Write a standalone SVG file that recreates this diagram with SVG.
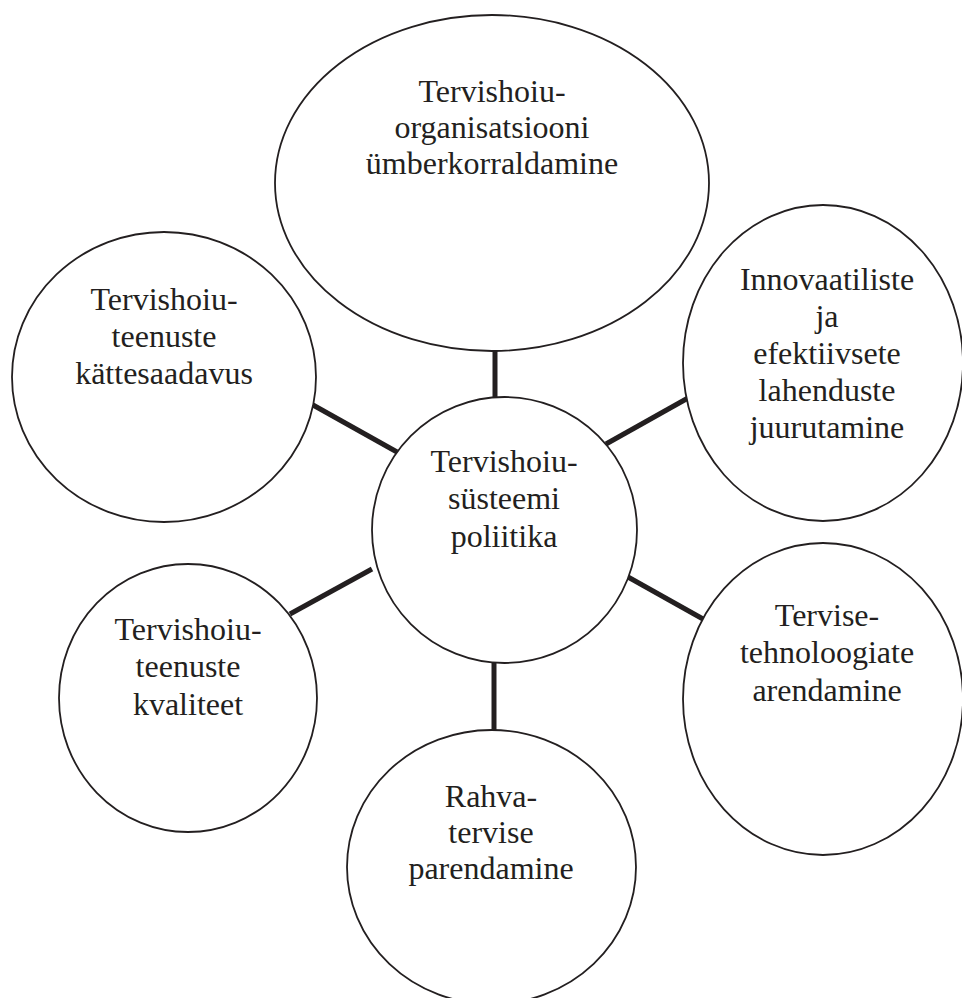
<svg xmlns="http://www.w3.org/2000/svg" width="962" height="998" viewBox="0 0 962 998">
<style>
.n{fill:#fff;stroke:#231f20;stroke-width:1.8}
.t{font-family:"Liberation Serif","Times New Roman",serif;font-size:32px;fill:#231f20;text-anchor:middle}
.c{stroke:#231f20;stroke-width:5;fill:none}
</style>
<rect width="962" height="998" fill="#fff"/>
<g id="connectors">
<line class="c" x1="495" y1="350" x2="495" y2="398"/>
<line class="c" x1="494" y1="662" x2="494" y2="731"/>
<line class="c" x1="313" y1="405" x2="397" y2="452"/>
<line class="c" x1="606" y1="444" x2="688" y2="398"/>
<line class="c" x1="290" y1="614" x2="372" y2="569"/>
<line class="c" x1="628" y1="577" x2="703" y2="619"/>
</g>
<g id="top">
<ellipse class="n" cx="492" cy="183" rx="217" ry="168"/>
<text class="t" x="492" y="102">Tervishoiu-</text>
<text class="t" x="492" y="138">organisatsiooni</text>
<text class="t" x="492" y="174">ümberkorraldamine</text>
</g>
<g id="access">
<ellipse class="n" cx="164" cy="377" rx="152" ry="145"/>
<text class="t" x="164" y="310">Tervishoiu-</text>
<text class="t" x="164" y="347">teenuste</text>
<text class="t" x="164" y="384">kättesaadavus</text>
</g>
<g id="innovation">
<ellipse class="n" cx="823" cy="363" rx="140" ry="158"/>
<text class="t" x="827" y="290">Innovaatiliste</text>
<text class="t" x="827" y="327">ja</text>
<text class="t" x="827" y="364">efektiivsete</text>
<text class="t" x="827" y="401">lahenduste</text>
<text class="t" x="827" y="438">juurutamine</text>
</g>
<g id="center">
<ellipse class="n" cx="504.5" cy="530" rx="132.5" ry="133"/>
<text class="t" x="504" y="472">Tervishoiu-</text>
<text class="t" x="504" y="509">süsteemi</text>
<text class="t" x="504" y="547">poliitika</text>
</g>
<g id="quality">
<ellipse class="n" cx="188" cy="698" rx="129" ry="134"/>
<text class="t" x="188" y="640">Tervishoiu-</text>
<text class="t" x="188" y="677">teenuste</text>
<text class="t" x="188" y="715">kvaliteet</text>
</g>
<g id="technology">
<ellipse class="n" cx="823" cy="699" rx="140" ry="156"/>
<text class="t" x="827" y="626">Tervise-</text>
<text class="t" x="827" y="663">tehnoloogiate</text>
<text class="t" x="827" y="701">arendamine</text>
</g>
<g id="publichealth">
<ellipse class="n" cx="491.5" cy="867" rx="144.5" ry="137"/>
<text class="t" x="491" y="807">Rahva-</text>
<text class="t" x="491" y="843">tervise</text>
<text class="t" x="491" y="879">parendamine</text>
</g>
</svg>
